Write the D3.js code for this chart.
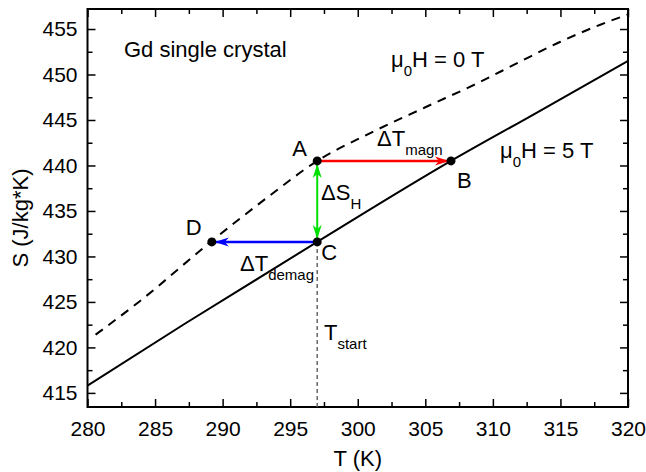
<!DOCTYPE html>
<html>
<head>
<meta charset="utf-8">
<script src="https://cdn.jsdelivr.net/npm/d3@7"></script>
<style>
  html, body { margin: 0; padding: 0; background: #fff; }
  svg { display: block; font-family: "Liberation Sans", Arial, sans-serif; }
</style>
</head>
<body>
<svg id="chart" width="646" height="472"></svg>
<script>
// Entropy of Gd single crystal, zero field and 5 T
const tempMajorTicks = [280, 285, 290, 295, 300, 305, 310, 315, 320];
const entropyMajorTicks = [415, 420, 425, 430, 435, 440, 445, 450, 455];

// mu0H = 0 T (dashed)
const temp0T = [280.6, 283.8, 289.2, 293.5, 297.0, 300.7, 305.0, 308.8, 312.0, 315.0, 318.0, 320.0];
const entropy0T = [421.4, 425.0, 431.7, 436.7, 440.5, 443.4, 446.4, 449.0, 451.4, 453.6, 455.5, 456.6];

// mu0H = 5 T (solid)
const temp5T = [280.0, 287.2, 297.0, 306.9, 313.0, 320.0];
const entropy5T = [415.8, 422.6, 431.6, 440.5, 445.6, 451.5];

// Magnetocaloric cycle points
const cycleLabels = ["A", "B", "C", "D"];
const cycleTemps = [297.0, 306.9, 297.0, 289.2];
const cycleEntropies = [440.5, 440.5, 431.6, 431.6];

const svg = d3.select("#chart");
const plot = { left: 87.5, right: 628, top: 9, bottom: 407 };

const x = d3.scaleLinear().domain([280, 320]).range([plot.left, plot.right]);
const y = d3.scaleLinear().domain([413.45, 457.2]).range([plot.bottom, plot.top]);

const minorT = d3.range(282.5, 320, 5);
const minorS = d3.range(417.5, 457.2, 5);

const FONT = 21;

// Axes with inward ticks on all four sides
function drawAxis(axisGen, tr, showLabels) {
  const g = svg.append("g").attr("transform", tr).call(axisGen);
  g.select(".domain").remove();
  g.selectAll(".tick line").attr("stroke", "#000").attr("stroke-width", 1.5);
  if (showLabels) {
    g.selectAll(".tick text").attr("font-size", FONT).attr("fill", "#000")
      .attr("font-family", "'Liberation Sans', Arial, sans-serif");
  } else {
    g.selectAll(".tick text").remove();
  }
  return g;
}

// major ticks
drawAxis(d3.axisBottom(x).tickValues(tempMajorTicks).tickSize(-8).tickPadding(14).tickFormat(d3.format("d")),
  `translate(0,${plot.bottom})`, true);
drawAxis(d3.axisTop(x).tickValues(tempMajorTicks).tickSize(-8), `translate(0,${plot.top})`, false);
drawAxis(d3.axisLeft(y).tickValues(entropyMajorTicks).tickSize(-8).tickPadding(10).tickFormat(d3.format("d")),
  `translate(${plot.left},0)`, true);
drawAxis(d3.axisRight(y).tickValues(entropyMajorTicks).tickSize(-8), `translate(${plot.right},0)`, false);
// minor ticks
drawAxis(d3.axisBottom(x).tickValues(minorT).tickSize(-5), `translate(0,${plot.bottom})`, false);
drawAxis(d3.axisTop(x).tickValues(minorT).tickSize(-5), `translate(0,${plot.top})`, false);
drawAxis(d3.axisLeft(y).tickValues(minorS).tickSize(-5), `translate(${plot.left},0)`, false);
drawAxis(d3.axisRight(y).tickValues(minorS).tickSize(-5), `translate(${plot.right},0)`, false);

// frame
svg.append("rect")
  .attr("x", plot.left).attr("y", plot.top)
  .attr("width", plot.right - plot.left).attr("height", plot.bottom - plot.top)
  .attr("fill", "none").attr("stroke", "#000").attr("stroke-width", 2);

// axis titles
svg.append("text").attr("x", (plot.left + plot.right) / 2).attr("y", 466)
  .attr("text-anchor", "middle").attr("font-size", 22).text("T (K)");
svg.append("text").attr("transform", `translate(28,${(plot.top + plot.bottom) / 2 + 10}) rotate(-90)`)
  .attr("text-anchor", "middle").attr("font-size", 22).text("S (J/kg*K)");

// curves
const line = d3.line().x(d => x(d[0])).y(d => y(d[1])).curve(d3.curveMonotoneX);

svg.append("path")
  .datum(d3.zip(temp0T, entropy0T))
  .attr("d", line).attr("fill", "none").attr("stroke", "#000")
  .attr("stroke-width", 2).attr("stroke-dasharray", "9,7");

svg.append("path")
  .datum(d3.zip(temp5T, entropy5T))
  .attr("d", line).attr("fill", "none").attr("stroke", "#000")
  .attr("stroke-width", 2);

const pts = cycleLabels.map((l, i) => ({ label: l, T: cycleTemps[i], S: cycleEntropies[i] }));
const P = Object.fromEntries(pts.map(p => [p.label, p]));

// T_start guide line
svg.append("line")
  .attr("x1", x(P.C.T)).attr("x2", x(P.C.T))
  .attr("y1", y(P.C.S)).attr("y2", plot.bottom)
  .attr("stroke", "#666").attr("stroke-width", 1.5).attr("stroke-dasharray", "4,3");

// arrowheads
const defs = svg.append("defs");
function marker(id, color) {
  defs.append("marker").attr("id", id)
    .attr("viewBox", "-14 -5 16 10").attr("refX", 0).attr("refY", 0)
    .attr("markerWidth", 16).attr("markerHeight", 10)
    .attr("markerUnits", "userSpaceOnUse").attr("orient", "auto-start-reverse")
    .append("path").attr("d", "M0,0 L-14,-4.5 L-10,0 L-14,4.5 Z").attr("fill", color);
}
marker("arrRed", "#ff0000");
marker("arrBlue", "#0000ff");
marker("arrGreen", "#00e000");

svg.append("line")
  .attr("x1", x(P.A.T)).attr("y1", y(P.A.S)).attr("x2", x(P.B.T) - 2).attr("y2", y(P.B.S))
  .attr("stroke", "#ff0000").attr("stroke-width", 2.5).attr("marker-end", "url(#arrRed)");
svg.append("line")
  .attr("x1", x(P.C.T)).attr("y1", y(P.C.S)).attr("x2", x(P.D.T) + 3).attr("y2", y(P.D.S))
  .attr("stroke", "#0000ff").attr("stroke-width", 2.5).attr("marker-end", "url(#arrBlue)");
svg.append("line")
  .attr("x1", x(P.A.T)).attr("y1", y(P.A.S) + 3).attr("x2", x(P.C.T)).attr("y2", y(P.C.S) - 3)
  .attr("stroke", "#00e000").attr("stroke-width", 2)
  .attr("marker-start", "url(#arrGreen)").attr("marker-end", "url(#arrGreen)");

// cycle points
svg.selectAll("circle.pt").data(pts).enter().append("circle")
  .attr("class", "pt").attr("cx", d => x(d.T)).attr("cy", d => y(d.S)).attr("r", 4.5).attr("fill", "#000");

// point labels
const labelOffsets = { A: [-25, -5], B: [6, 27], C: [4, 18], D: [-26, -7] };
svg.selectAll("text.pt").data(pts).enter().append("text")
  .attr("class", "pt").attr("font-size", 22)
  .attr("x", d => x(d.T) + labelOffsets[d.label][0])
  .attr("y", d => y(d.S) + labelOffsets[d.label][1])
  .text(d => d.label);

// annotation text with subscripts
function subText(px, py, main, sub, tail, size, subSize) {
  const t = svg.append("text").attr("x", px).attr("y", py).attr("font-size", size);
  t.append("tspan").text(main);
  t.append("tspan").attr("font-size", subSize).attr("dy", 9).text(sub);
  if (tail) t.append("tspan").attr("dy", -9).text(tail);
  return t;
}

svg.append("text").attr("x", 124).attr("y", 57).attr("font-size", 22).text("Gd single crystal");
subText(391, 67, "\u03bc", "0", "H = 0 T", 22, 15);
subText(500, 158, "\u03bc", "0", "H = 5 T", 22, 15);
subText(377, 146, "\u0394T", "magn", null, 22, 15);
subText(321, 200, "\u0394S", "H", null, 22, 15);
subText(240, 271, "\u0394T", "demag", null, 22, 15);
subText(324, 340, "T", "start", null, 22, 15);
</script>
</body>
</html>
